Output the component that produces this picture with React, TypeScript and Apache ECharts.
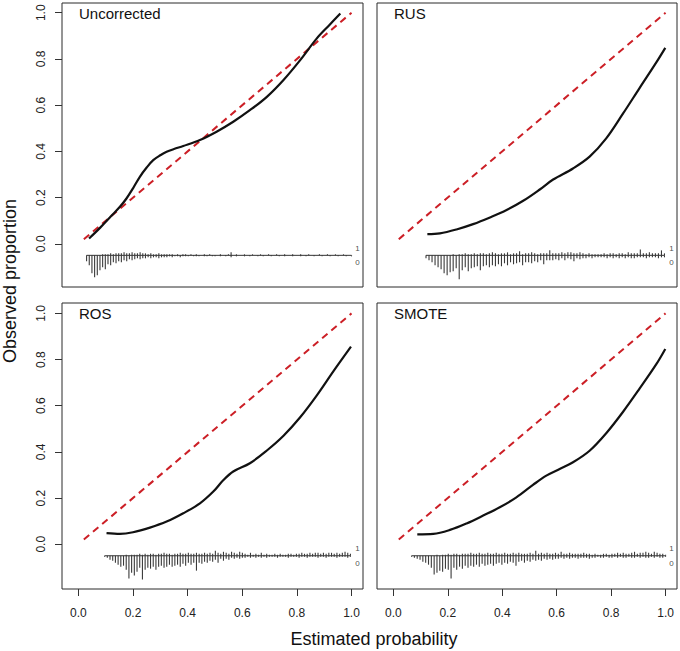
import React, { useEffect, useRef } from "react";
import * as echarts from "echarts";

// ---- data ----
const tickValues = [0, 0.2, 0.4, 0.6, 0.8, 1.0];
const panelNames = ["Uncorrected", "RUS", "ROS", "SMOTE"];
const idealX = [0.02, 1.0];
const idealY = [0.02, 1.0];

const uncorrectedX = [0.039, 0.08, 0.12, 0.152, 0.176, 0.2, 0.225, 0.25, 0.274, 0.3, 0.323, 0.35, 0.384, 0.445, 0.506, 0.567, 0.629, 0.69, 0.751, 0.812, 0.873, 0.92, 0.959];
const uncorrectedY = [0.023, 0.07, 0.12, 0.16, 0.196, 0.24, 0.29, 0.33, 0.362, 0.383, 0.398, 0.41, 0.423, 0.449, 0.485, 0.528, 0.579, 0.636, 0.709, 0.795, 0.889, 0.948, 0.997];

const rusX = [0.125, 0.171, 0.232, 0.293, 0.355, 0.416, 0.477, 0.538, 0.587, 0.66, 0.721, 0.782, 0.844, 0.905, 0.966, 0.999];
const rusY = [0.042, 0.045, 0.062, 0.085, 0.114, 0.146, 0.186, 0.235, 0.278, 0.326, 0.377, 0.456, 0.564, 0.675, 0.785, 0.848];

const rosX = [0.103, 0.152, 0.2, 0.262, 0.323, 0.384, 0.445, 0.494, 0.531, 0.567, 0.628, 0.689, 0.751, 0.812, 0.873, 0.934, 0.998];
const rosY = [0.048, 0.045, 0.052, 0.072, 0.098, 0.134, 0.177, 0.228, 0.278, 0.315, 0.351, 0.405, 0.47, 0.55, 0.645, 0.75, 0.856];

const smoteX = [0.088, 0.147, 0.208, 0.269, 0.33, 0.391, 0.452, 0.513, 0.562, 0.611, 0.66, 0.721, 0.782, 0.844, 0.905, 0.966, 0.999];
const smoteY = [0.043, 0.045, 0.062, 0.09, 0.124, 0.16, 0.203, 0.257, 0.297, 0.326, 0.355, 0.405, 0.481, 0.574, 0.675, 0.78, 0.846];

// spike histograms (counts below = outcome 0, above = outcome 1)
const uncorrectedRange = [0.03, 1.0];
const uncorrectedDown = [6,10,18,22,20,15,12,14,9,10,7,8,6,7,5,6,4,5,4,3,4,3,3,2,3,2,2,3,2,2,
  2,1,2,1,1,2,1,1,1,0,1,1,1,0,1,1,0,1,1,0,
  1,0,1,0,2,0,1,0,0,1,0,1,0,0,1,0,1,0,0,1,
  0,0,1,0,1,0,0,1,0,0,1,0,1,0,0,1,0,0,1,0,
  0,1,0,0,1,0,0,1,0,1];
const uncorrectedUp = [0,0,0,0,0,0,1,1,1,2,1,2,2,2,3,2,2,3,2,2,3,2,2,1,2,1,1,2,1,1,
  1,1,1,0,1,0,1,1,0,1,0,1,0,0,1,0,1,0,0,0,
  1,0,0,1,3,0,1,0,0,1,0,0,1,0,0,1,0,0,1,0,
  0,1,0,0,1,0,0,1,0,0,1,0,0,1,0,0,0,1,0,0,
  1,0,0,1,0,0,1,0,0,0];

const rusRange = [0.12, 0.996];
const rusDown = [3,5,7,10,12,14,18,20,17,16,13,24,15,12,16,13,12,11,15,11,10,12,10,11,9,11,8,10,7,9,8,7,10,7,7,8,6,7,5,9,5,5,5,4,5,3,5,3,4,6,3,4,3,3,2,3,2,2,2,2,3,2,3,2,3,2,3,2,3,3,2,2,2,3,2,2,2,3,2,2];
const rusUp = [0,0,0,0,0,0,0,0,0,1,0,1,1,2,1,1,2,1,2,2,1,2,3,2,1,2,2,3,1,2,2,4,1,2,2,3,2,1,2,2,2,5,2,2,2,3,2,3,3,2,2,3,2,1,2,1,1,1,1,2,1,2,2,1,2,2,1,3,2,2,2,6,2,2,3,2,2,2,5,2];

const rosRange = [0.096, 0.996];
const rosDown = [1,2,4,5,7,9,11,10,14,23,17,20,16,12,24,14,12,13,11,14,11,10,12,11,9,11,10,9,11,8,10,7,9,7,15,7,8,6,7,5,6,4,7,3,5,3,4,2,3,2,3,2,2,1,2,1,2,1,2,1,2,1,1,1,2,1,1,1,2,1,1,1,2,1,1,2,1,1,1,2,1,1,2,1,1,1,2,1,1,1,2,1];
const rosUp = [0,0,0,0,0,0,0,0,1,0,1,1,1,2,1,2,1,2,2,1,2,2,3,2,2,1,2,2,3,2,2,3,2,2,3,2,2,3,2,3,2,5,3,2,4,3,2,4,3,2,4,3,2,1,3,1,2,1,3,1,2,1,1,2,1,2,1,1,2,2,1,2,2,3,2,2,3,2,3,3,2,3,2,3,3,2,3,2,3,4,3,2];

const smoteRange = [0.067, 1.0];
const smoteDown = [1,2,3,4,6,7,9,12,19,17,15,16,13,14,23,12,14,11,13,10,12,10,11,9,11,8,10,9,8,10,8,7,9,7,8,6,7,10,6,5,7,5,6,4,5,4,5,3,4,3,4,3,3,2,3,2,3,2,2,3,2,2,2,3,2,2,1,2,2,1,2,2,1,2,1,2,2,1,2,2,1,2,1,2,2,1,2,1,2,2,1];
const smoteUp = [0,0,0,0,0,0,0,0,0,1,0,1,1,2,1,2,2,1,2,2,2,3,2,2,3,2,2,3,2,2,3,2,2,3,2,2,3,2,3,2,2,2,3,2,5,2,3,2,3,2,2,3,2,4,2,2,3,2,2,2,2,3,2,2,1,2,1,1,2,2,1,2,2,3,2,3,2,2,3,4,2,3,3,4,3,2,4,3,2,2,1];

const spikeBase = -0.05;
const spikeUnit = 0.0043;

const FONT = "'Liberation Sans', Arial, Helvetica, sans-serif";

function zip(xs: number[], ys: number[]) {
  return xs.map((x, i) => [x, ys[i]]);
}

function spikeData(range: number[], down: number[], up: number[]) {
  const n = down.length;
  return down.map((d, i) => [range[0] + (i * (range[1] - range[0])) / (n - 1), d, up[i]]);
}

const panels = [
  { name: panelNames[0], curve: zip(uncorrectedX, uncorrectedY), range: uncorrectedRange, spikes: spikeData(uncorrectedRange, uncorrectedDown, uncorrectedUp) },
  { name: panelNames[1], curve: zip(rusX, rusY), range: rusRange, spikes: spikeData(rusRange, rusDown, rusUp) },
  { name: panelNames[2], curve: zip(rosX, rosY), range: rosRange, spikes: spikeData(rosRange, rosDown, rosUp) },
  { name: panelNames[3], curve: zip(smoteX, smoteY), range: smoteRange, spikes: spikeData(smoteRange, smoteDown, smoteUp) },
];

const gridBoxes = [
  { left: 62, top: 3, width: 301, height: 284 },
  { left: 377, top: 3, width: 300, height: 284 },
  { left: 62, top: 303, width: 301, height: 286 },
  { left: 377, top: 303, width: 300, height: 286 },
];

export default function App() {
  const ref = useRef<HTMLDivElement>(null);
  useEffect(() => {
    if (!ref.current) return;
    const chart = echarts.init(ref.current, null, { renderer: "svg" });

    const grid = gridBoxes.map((g) => ({
      ...g,
      show: true,
      borderColor: "#2a2a2a",
      borderWidth: 1,
      backgroundColor: "transparent",
      containLabel: false,
    }));

    const xAxis = gridBoxes.map((_, i) => ({
      type: "value",
      gridIndex: i,
      position: "bottom",
      min: -0.06,
      max: 1.042,
      splitLine: { show: false },
      axisLine: { show: false, onZero: false },
      axisTick: {
        show: i >= 2,
        inside: false,
        length: 7,
        customValues: tickValues,
        lineStyle: { color: "#333", width: 1 },
      },
      axisLabel: {
        show: i >= 2,
        customValues: tickValues,
        formatter: (v: number) => v.toFixed(1),
        margin: 18,
        fontSize: 12,
        color: "#222",
        fontFamily: FONT,
      },
    }));

    const yAxis = gridBoxes.map((_, i) => ({
      type: "value",
      gridIndex: i,
      position: "left",
      min: i < 2 ? -0.187 : -0.194,
      max: i < 2 ? 1.042 : 1.045,
      splitLine: { show: false },
      axisLine: { show: false, onZero: false },
      axisTick: {
        show: i % 2 === 0,
        inside: false,
        length: 7,
        customValues: tickValues,
        lineStyle: { color: "#333", width: 1 },
      },
      axisLabel: {
        show: i % 2 === 0,
        customValues: tickValues,
        rotate: 90,
        formatter: (v: number) => v.toFixed(1),
        margin: 15,
        fontSize: 12,
        color: "#222",
        fontFamily: FONT,
      },
    }));

    const series: any[] = [];
    panels.forEach((p, i) => {
      series.push({
        type: "line",
        xAxisIndex: i,
        yAxisIndex: i,
        data: zip(idealX, idealY),
        symbol: "none",
        lineStyle: { color: "#cc1f26", width: 2, type: [7, 5] },
        z: 3,
      });
      series.push({
        type: "line",
        xAxisIndex: i,
        yAxisIndex: i,
        data: p.curve,
        symbol: "none",
        smooth: 0.35,
        lineStyle: { color: "#111", width: 2.2 },
        z: 4,
      });
      series.push({
        type: "line",
        xAxisIndex: i,
        yAxisIndex: i,
        data: [
          [p.range[0], spikeBase],
          [p.range[1], spikeBase],
        ],
        symbol: "none",
        lineStyle: { color: "#333", width: 1 },
        z: 2,
      });
      series.push({
        type: "custom",
        xAxisIndex: i,
        yAxisIndex: i,
        data: p.spikes,
        z: 2,
        renderItem: (params: any, api: any) => {
          const x = api.value(0);
          const d = api.value(1);
          const u = api.value(2);
          const p0 = api.coord([x, spikeBase]);
          const children: any[] = [];
          if (d > 0) {
            const pd = api.coord([x, spikeBase - d * spikeUnit]);
            children.push({
              type: "line",
              shape: { x1: p0[0], y1: p0[1], x2: pd[0], y2: pd[1] },
              style: { stroke: "#3a3a3a", lineWidth: 1.1 },
            });
          }
          if (u > 0) {
            const pu = api.coord([x, spikeBase + u * spikeUnit]);
            children.push({
              type: "line",
              shape: { x1: p0[0], y1: p0[1], x2: pu[0], y2: pu[1] },
              style: { stroke: "#3a3a3a", lineWidth: 1.1 },
            });
          }
          return { type: "group", children };
        },
      });
      series.push({
        type: "scatter",
        xAxisIndex: i,
        yAxisIndex: i,
        symbolSize: 0,
        itemStyle: { color: "#222" },
        data: [
          [1.022, spikeBase + 0.03, "1"],
          [1.022, spikeBase - 0.032, "0"],
        ],
        label: {
          show: true,
          position: "inside",
          formatter: (q: any) => q.value[2],
          fontSize: 8,
          color: "#222",
          fontFamily: FONT,
        },
        z: 5,
      });
    });

    const title = panels.map((p, i) => ({
      text: p.name,
      left: gridBoxes[i].left + 17,
      top: gridBoxes[i].top + 3,
      padding: 0,
      textStyle: { fontSize: 15, fontWeight: "normal", color: "#111", fontFamily: FONT },
    }));

    chart.setOption({
      animation: false,
      backgroundColor: "#fff",
      title,
      grid,
      xAxis,
      yAxis,
      series,
      graphic: [
        {
          type: "text",
          x: 10,
          y: 281,
          rotation: Math.PI / 2,
          style: {
            text: "Observed proportion",
            font: `18px ${FONT}`,
            fill: "#111",
            textAlign: "center",
            textVerticalAlign: "middle",
          },
        },
        {
          type: "text",
          x: 374,
          y: 639,
          style: {
            text: "Estimated probability",
            font: `18px ${FONT}`,
            fill: "#111",
            textAlign: "center",
            textVerticalAlign: "middle",
          },
        },
      ],
    });
    return () => chart.dispose();
  }, []);
  return (
    <div
      ref={ref}
      style={{ position: "absolute", left: 0, top: 0, width: 680, height: 651 }}
    />
  );
}
